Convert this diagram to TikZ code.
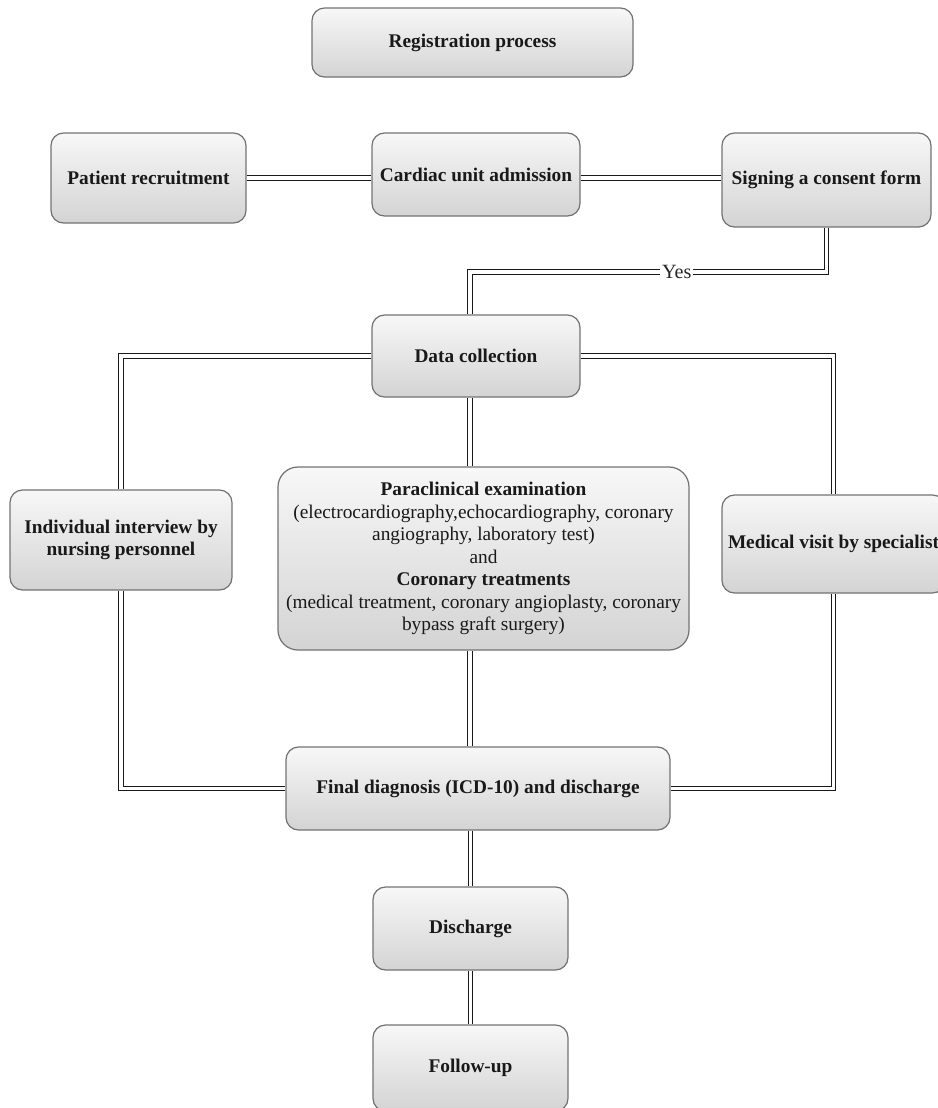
\documentclass[tikz,border=0pt]{standalone}
\usepackage{fontspec}
\setmainfont{Liberation Serif}
\usetikzlibrary{calc}

\begin{document}
\begin{tikzpicture}[
    caja/.style={draw=black!55, line width=0.7pt, rounded corners=0.25cm, top color=black!3, bottom color=black!17, align=center, font=\fontsize{11}{12.8}\selectfont\bfseries, text=black!90, inner sep=2pt},
    enlace/.style={draw=black!90, double, double distance=1.8pt, line width=0.7pt},
    etiqueta/.style={fill=white, inner sep=1pt, font=\fontsize{11.5}{13}\selectfont, text=black!85}
]
    % Establecer los limites del grafico
    \useasboundingbox (0,0) rectangle (18.76,-22.16);

    % Definir las cajas de la fila superior
    \node[caja, minimum width=6.42cm, minimum height=1.38cm] (reg) at (9.45,-0.85) {Registration process};
    \node[caja, minimum width=3.9cm, minimum height=1.8cm] (pat) at (2.97,-3.56) {Patient recruitment};
    \node[caja, minimum width=4.16cm, minimum height=1.66cm] (card) at (9.52,-3.49) {Cardiac unit admission};
    \node[caja, minimum width=4.18cm, minimum height=1.88cm] (sign) at (16.53,-3.6) {Signing a consent form};

    % Definir las cajas centrales
    \node[caja, minimum width=4.16cm, minimum height=1.64cm] (data) at (9.52,-7.12) {Data collection};
    \node[caja, minimum width=4.44cm, minimum height=2cm] (inter) at (2.42,-10.8) {Individual interview by\\ nursing personnel};
    \node[caja, minimum width=8.22cm, minimum height=3.66cm, rounded corners=0.4cm, font=\fontsize{11}{12.8}\selectfont] (para) at (9.67,-11.17)
        {\textbf{Paraclinical examination}\\ (electrocardiography,echocardiography, coronary\\ angiography, laboratory test)\\ and\\ \textbf{Coronary treatments}\\ (medical treatment, coronary angioplasty, coronary\\ bypass graft surgery)};
    \node[caja, minimum width=4.46cm, minimum height=1.96cm] (med) at (16.67,-10.88) {Medical visit by specialist};

    % Definir las cajas inferiores
    \node[caja, minimum width=7.68cm, minimum height=1.66cm] (final) at (9.56,-15.77) {Final diagnosis (ICD-10) and discharge};
    \node[caja, minimum width=3.9cm, minimum height=1.66cm] (dis) at (9.41,-18.57) {Discharge};
    \node[caja, minimum width=3.9cm, minimum height=1.72cm] (fol) at (9.41,-21.36) {Follow-up};

    % Puntos de apoyo para las lineas
    \coordinate (eje) at (9.4,0);
    \coordinate (codo) at (9.4,-5.44);

    % Unir la fila superior
    \draw[enlace] (pat.east) -- (pat.east -| card.west);
    \draw[enlace] (card.east |- pat.east) -- (sign.west |- pat.east);

    % Linea con la etiqueta Yes
    \draw[enlace] (sign.south) |- node[etiqueta, pos=0.71] {Yes} (codo) -- (data.north -| codo);

    % Lazos izquierdo y derecho
    \draw[enlace] (data.west) -| (inter.north);
    \draw[enlace] (inter.south) |- (final.west);
    \draw[enlace] (data.east) -| (med.north);
    \draw[enlace] (med.south) |- (final.east);

    % Eje central
    \draw[enlace] (data.south -| eje) -- (para.north -| eje);
    \draw[enlace] (para.south -| eje) -- (final.north -| eje);
    \draw[enlace] (final.south -| dis) -- (dis.north);
    \draw[enlace] (dis.south) -- (fol.north);

\end{tikzpicture}
\end{document}
